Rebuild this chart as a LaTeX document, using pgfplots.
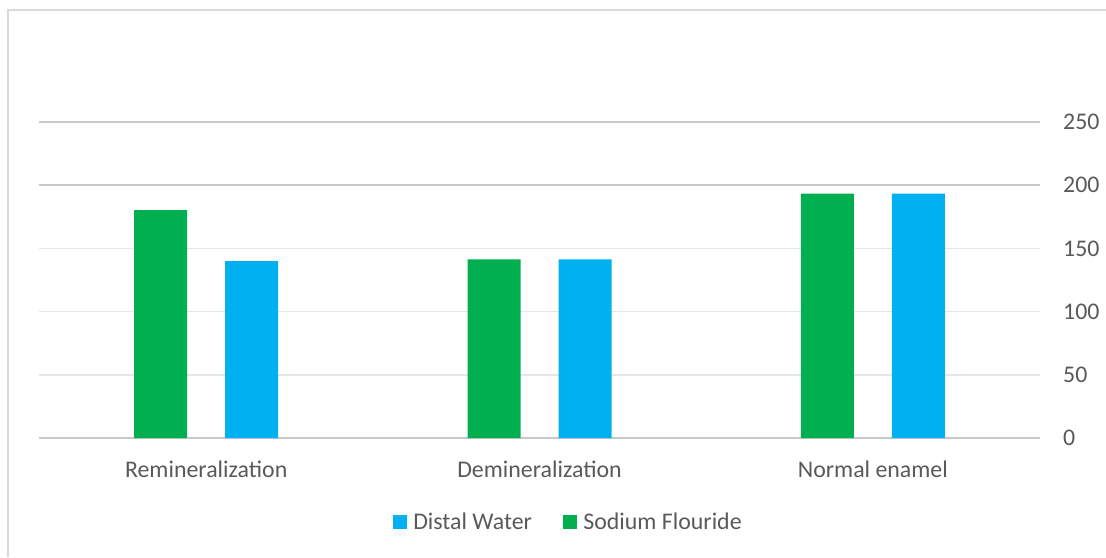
\documentclass[border=0pt]{standalone}
\usepackage{fontspec}
\setmainfont{Carlito}
\usepackage{pgfplots}
\pgfplotsset{compat=1.18}

\definecolor{sodium}{HTML}{00B050}
\definecolor{distal}{HTML}{00B0F0}
\definecolor{txt}{HTML}{595959}
\definecolor{gridlight}{HTML}{E6E6E6}
\definecolor{griddark}{HTML}{C8C8C8}
\definecolor{frame}{HTML}{D9D9D9}

% 1 px of the reference = 0.75pt
\def\px{0.75pt}

\begin{document}
\begin{tikzpicture}[x=\px, y=\px]
\useasboundingbox (0,0) rectangle (1106,557);
% chart frame (cut at right and bottom)
\draw[frame, line width=2*\px] (8,0) -- (8,547) -- (1106,547);

\begin{axis}[
    at={(39.5*\px,119*\px)}, anchor=south west,
    scale only axis,
    width=750pt, height=237pt,
    xmin=-0.5, xmax=2.5,
    ymin=0, ymax=250,
    xtick={0,1,2},
    xticklabels={Remineralization, Demineralization, Normal enamel},
    ytick={50,100,150},
    extra y ticks={0,200,250},
    extra y tick style={grid style={griddark, line width=1.5*\px}},
    ymajorgrids,
    grid style={gridlight, line width=1.5*\px},
    yticklabel pos=right,
    axis line style={draw=none},
    major tick length=0pt,
    tick style={draw=none},
    /pgf/number format/assume math mode=true,
    font=\fontsize{17.9pt}{20pt}\selectfont,
    ticklabel style={text=txt},
    yticklabel style={anchor=west, inner sep=0pt, xshift=17.6pt},
    xticklabel style={anchor=base, inner sep=0pt, yshift=-29.25pt},
    legend style={
        at={(0.529,-0.266)}, anchor=center,
        draw=none, fill=none,
        text=txt,
        legend columns=-1,
        /tikz/every even column/.append style={column sep=21pt},
        inner sep=0pt,
    },
    legend image code/.code={
        \fill[#1] (0pt,-5.25pt) rectangle (10.5pt,5.25pt);
        \path (0pt,0pt) -- (13.5pt,0pt);
    },
    legend cell align=left,
]
% Distal Water
\addplot[ybar, bar width=39.75pt, bar shift=34.125pt, fill=distal, draw=none]
    coordinates {(0,140) (1,141.4) (2,193.4)};
% Sodium Flouride
\addplot[ybar, bar width=39.75pt, bar shift=-34.125pt, fill=sodium, draw=none]
    coordinates {(0,180.2) (1,141.4) (2,193.4)};
\draw[griddark, line width=1.5*\px] (axis cs:-0.5,200) -- (axis cs:2.5,200);
\legend{Distal Water, Sodium Flouride}
\end{axis}
\end{tikzpicture}
\end{document}
